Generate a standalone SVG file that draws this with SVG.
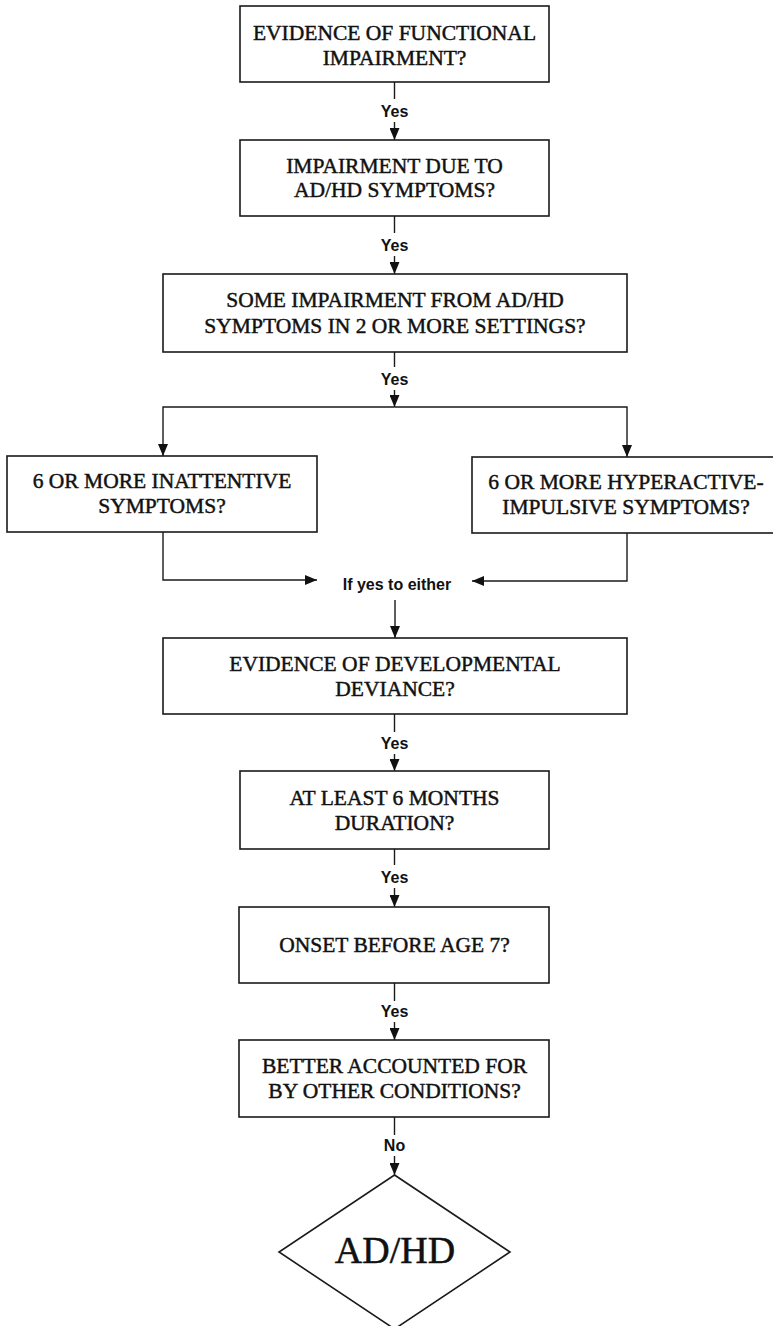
<svg xmlns="http://www.w3.org/2000/svg" width="773" height="1326" viewBox="0 0 773 1326">
  <style>
    .box { fill: #fff; stroke: #1a1a1a; stroke-width: 1.6; }
    .q { font-family: "Liberation Serif", "Times New Roman", serif; font-size: 21.5px; fill: #111; stroke: #111; stroke-width: 0.45; text-anchor: middle; }
    .lbl { font-family: "Liberation Sans", Arial, sans-serif; font-size: 16px; font-weight: bold; fill: #111; text-anchor: middle; }
    .ln { fill: none; stroke: #1a1a1a; stroke-width: 1.4; }
    .arr { fill: none; stroke: #1a1a1a; stroke-width: 1.4; marker-end: url(#head); }
    .big { font-family: "Liberation Serif", "Times New Roman", serif; font-size: 38px; fill: #111; stroke: #111; stroke-width: 0.5; text-anchor: middle; }
  </style>
  <defs>
    <marker id="head" viewBox="0 0 12 10" markerWidth="12" markerHeight="10" refX="12" refY="5" orient="auto" markerUnits="userSpaceOnUse">
      <path d="M0,0 L12,5 L0,10 z" fill="#111"/>
    </marker>
  </defs>
  <rect width="773" height="1326" fill="#fff"/>

  <g id="connectors">
    <line class="ln" x1="394.5" y1="82" x2="394.5" y2="99"/>
    <line class="arr" x1="394.5" y1="122" x2="394.5" y2="140"/>
    <line class="ln" x1="394.5" y1="216" x2="394.5" y2="233"/>
    <line class="arr" x1="394.5" y1="256" x2="394.5" y2="274"/>
    <line class="ln" x1="394.5" y1="352" x2="394.5" y2="367"/>
    <line class="arr" x1="394.5" y1="390" x2="394.5" y2="407"/>
    <path class="arr" d="M394.5,407 H163 V456"/>
    <path class="arr" d="M394.5,407 H627 V457"/>
    <path class="arr" d="M163,532 V580 H317"/>
    <path class="arr" d="M627,533 V581 H472"/>
    <line class="arr" x1="395" y1="600" x2="395" y2="638"/>
    <line class="ln" x1="394.5" y1="714" x2="394.5" y2="732"/>
    <line class="arr" x1="394.5" y1="754" x2="394.5" y2="771"/>
    <line class="ln" x1="394.5" y1="849" x2="394.5" y2="865"/>
    <line class="arr" x1="394.5" y1="888" x2="394.5" y2="907"/>
    <line class="ln" x1="394.5" y1="983" x2="394.5" y2="1001"/>
    <line class="arr" x1="394.5" y1="1022" x2="394.5" y2="1040"/>
    <line class="ln" x1="394.5" y1="1117" x2="394.5" y2="1135"/>
    <line class="arr" x1="394.5" y1="1156" x2="394.5" y2="1175"/>
    <text class="lbl" x="394.5" y="117">Yes</text>
    <text class="lbl" x="394.5" y="251">Yes</text>
    <text class="lbl" x="394.5" y="385">Yes</text>
    <text class="lbl" x="397" y="590">If yes to either</text>
    <text class="lbl" x="394.5" y="749">Yes</text>
    <text class="lbl" x="394.5" y="883">Yes</text>
    <text class="lbl" x="394.5" y="1017">Yes</text>
    <text class="lbl" x="394.5" y="1151">No</text>
  </g>

  <g id="functional">
    <rect class="box" x="240" y="6" width="309" height="76"/>
    <text class="q" x="394.5" y="40">EVIDENCE OF FUNCTIONAL</text>
    <text class="q" x="394.5" y="65">IMPAIRMENT?</text>
  </g>
  <g id="due-to-symptoms">
    <rect class="box" x="240" y="140" width="309" height="76"/>
    <text class="q" x="394.5" y="173">IMPAIRMENT DUE TO</text>
    <text class="q" x="394.5" y="197">AD/HD SYMPTOMS?</text>
  </g>
  <g id="settings">
    <rect class="box" x="163" y="274" width="464" height="78"/>
    <text class="q" x="395" y="307">SOME IMPAIRMENT FROM AD/HD</text>
    <text class="q" x="395" y="333">SYMPTOMS IN 2 OR MORE SETTINGS?</text>
  </g>
  <g id="inattentive">
    <rect class="box" x="7" y="456" width="310" height="76"/>
    <text class="q" x="162" y="488">6 OR MORE INATTENTIVE</text>
    <text class="q" x="162" y="513">SYMPTOMS?</text>
  </g>
  <g id="hyperactive">
    <rect class="box" x="472" y="457" width="310" height="76"/>
    <text class="q" x="626" y="489">6 OR MORE HYPERACTIVE-</text>
    <text class="q" x="626" y="514">IMPULSIVE SYMPTOMS?</text>
  </g>
  <g id="developmental">
    <rect class="box" x="163" y="638" width="464" height="76"/>
    <text class="q" x="395" y="671">EVIDENCE OF DEVELOPMENTAL</text>
    <text class="q" x="395" y="696">DEVIANCE?</text>
  </g>
  <g id="duration">
    <rect class="box" x="240" y="771" width="309" height="78"/>
    <text class="q" x="394.5" y="805">AT LEAST 6 MONTHS</text>
    <text class="q" x="394.5" y="830">DURATION?</text>
  </g>
  <g id="onset">
    <rect class="box" x="239" y="907" width="310" height="76"/>
    <text class="q" x="394.5" y="952">ONSET BEFORE AGE 7?</text>
  </g>
  <g id="other-conditions">
    <rect class="box" x="239" y="1040" width="310" height="77"/>
    <text class="q" x="394.5" y="1073">BETTER ACCOUNTED FOR</text>
    <text class="q" x="394.5" y="1098">BY OTHER CONDITIONS?</text>
  </g>
  <g id="diagnosis">
    <polygon class="box" points="394.5,1175 510,1252 394.5,1329 279,1252"/>
    <text class="big" x="395" y="1263">AD/HD</text>
  </g>
</svg>
